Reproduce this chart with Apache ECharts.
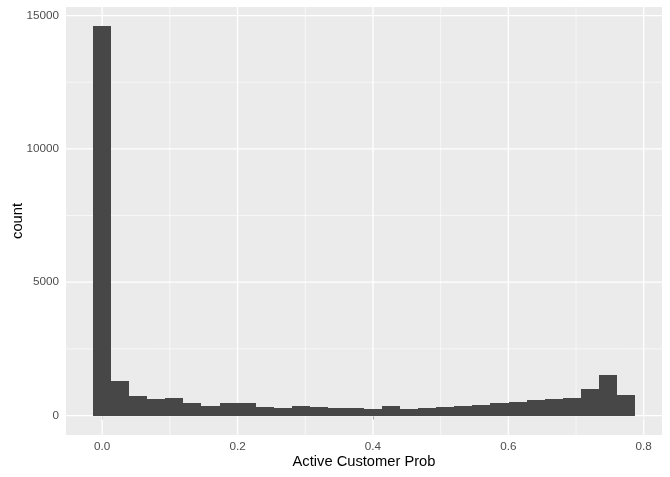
<!DOCTYPE html>
<html>
<head>
<meta charset="utf-8">
<script src="https://cdn.jsdelivr.net/npm/echarts@6/dist/echarts.min.js"></script>
<style>html,body{margin:0;padding:0;background:#fff}#c{width:670px;height:477px}</style>
</head>
<body>
<div id="c"></div>
<script>
// Histogram bins (30 bins, centred on multiples of binWidth)
var binWidth = 0.02668;
var counts = [14590, 1300, 740, 630, 665, 480, 365, 480, 480, 330,
              290, 365, 330, 290, 290, 250, 365, 250, 290, 330,
              365, 400, 480, 515, 565, 630, 665, 1000, 1530, 780];
var xTicks = [0, 0.2, 0.4, 0.6, 0.8];
var xMinor = [0.1, 0.3, 0.5, 0.7];
var yTicks = [0, 5000, 10000, 15000];
var yMinor = [2500, 7500, 12500];

var bins = counts.map(function (c, i) {
  var center = i * binWidth;
  return [center - binWidth / 2, center + binWidth / 2, c];
});

// gridline items: [axis(0=x,1=y), value, width]
var gridItems = []
  .concat(xMinor.map(function (v) { return [0, v, 0.6]; }))
  .concat(yMinor.map(function (v) { return [1, v, 0.6]; }))
  .concat(xTicks.map(function (v) { return [0, v, 1.3]; }))
  .concat(yTicks.map(function (v) { return [1, v, 1.3]; }));

var font = '"Liberation Sans", Arial, sans-serif';
var chart = echarts.init(document.getElementById('c'), null, {renderer: 'canvas'});

chart.setOption({
  animation: false,
  backgroundColor: '#ffffff',
  grid: {left: 66, top: 7, right: 8, bottom: 42, show: true, backgroundColor: '#EBEBEB', borderWidth: 0,
         containLabel: false, outerBoundsMode: 'none'},
  xAxis: {
    type: 'value', min: -0.0534, max: 0.827,
    name: 'Active Customer Prob', nameLocation: 'middle', nameGap: 19, nameMoveOverlap: false,
    nameTextStyle: {fontFamily: font, fontSize: 14.7, color: '#000'},
    axisLine: {show: false},
    axisTick: {show: true, length: 4, customValues: xTicks, lineStyle: {color: '#333', width: 1}},
    axisLabel: {customValues: xTicks, margin: 6, fontFamily: font, fontSize: 11.7, color: '#4d4d4d',
      formatter: function (v) { return v.toFixed(1); }},
    splitLine: {show: false}
  },
  yAxis: {
    type: 'value', min: -730, max: 15320,
    name: 'count', nameLocation: 'middle', nameGap: 41, nameRotate: 90, nameMoveOverlap: false,
    nameTextStyle: {fontFamily: font, fontSize: 14.7, color: '#000'},
    axisLine: {show: false},
    axisTick: {show: true, length: 4, customValues: yTicks, lineStyle: {color: '#333', width: 1}},
    axisLabel: {customValues: yTicks, margin: 7, fontFamily: font, fontSize: 11.7, color: '#4d4d4d',
      formatter: function (v) { return String(Math.round(v)); }},
    splitLine: {show: false}
  },
  series: [
    {
      type: 'custom', z: 1, silent: true,
      data: gridItems,
      encode: {x: -1, y: -1},
      renderItem: function (params, api) {
        var cs = params.coordSys;
        var axis = api.value(0), v = api.value(1), w = api.value(2);
        var shape;
        if (axis === 0) {
          var x = api.coord([v, 0])[0];
          shape = {x1: x, y1: cs.y, x2: x, y2: cs.y + cs.height};
        } else {
          var y = api.coord([0, v])[1];
          shape = {x1: cs.x, y1: y, x2: cs.x + cs.width, y2: y};
        }
        return {type: 'line', shape: shape, style: {stroke: '#ffffff', lineWidth: w}};
      }
    },
    {
      type: 'custom', z: 3, silent: true,
      data: bins,
      encode: {x: [0, 1], y: 2},
      renderItem: function (params, api) {
        var p0 = api.coord([api.value(0), api.value(2)]);
        var p1 = api.coord([api.value(1), 0]);
        var x0 = Math.round(p0[0]), x1 = Math.round(p1[0]);
        var y0 = Math.round(p0[1]), y1 = Math.round(p1[1]);
        return {
          type: 'rect',
          shape: {x: x0, y: y0, width: x1 - x0, height: y1 - y0},
          style: {fill: '#474747', stroke: null}
        };
      }
    }
  ]
});
</script>
</body>
</html>
